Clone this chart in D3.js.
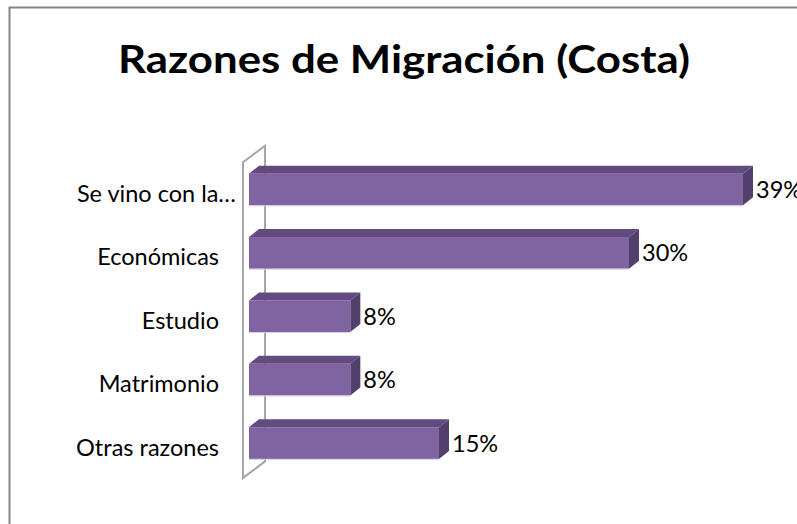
<!DOCTYPE html>
<html>
<head>
<meta charset="utf-8">
<script src="https://cdn.jsdelivr.net/npm/d3@7/dist/d3.min.js"></script>
<style>
  html, body { margin: 0; padding: 0; background: #fff; }
  svg { display: block; }
  text { font-family: Lato, "Open Sans", sans-serif; fill: #000; }
</style>
</head>
<body>
<svg id="chart" width="797" height="524"></svg>
<script>
const title = "Razones de Migración (Costa)";
const categories = ["Se vino con la…", "Económicas", "Estudio", "Matrimonio", "Otras razones"];
const values = [39, 30, 8, 8, 15];
const valueLabels = ["39%", "30%", "8%", "8%", "15%"];

const W = 797, H = 524;
const svg = d3.select("#chart");

// chart border (extends beyond right/bottom of the picture)
svg.append("rect")
  .attr("x", 9.5).attr("y", 7.5)
  .attr("width", W + 20).attr("height", H + 20)
  .attr("fill", "#fff").attr("stroke", "#868686").attr("stroke-width", 2);

// title
svg.append("text")
  .attr("x", 118).attr("y", 73)
  .attr("font-size", 39).attr("font-weight", "bold")
  .attr("textLength", 572).attr("lengthAdjust", "spacingAndGlyphs")
  .text(title);

const x = d3.scaleLinear().domain([0, 39]).range([249, 743]);
const y = d3.scaleBand().domain(categories).range([141.95, 490.6])
  .paddingInner(0.5).paddingOuter(0.5);

const dx = 10, dy = -8;
const labelSize = 23.5;

// back wall (3D axis plane)
const wallFront = x(0) - 6, wallBack = wallFront + 22;
const wallTopFront = y(categories[0]) - 11.5;
const wallBottomFront = y(categories[categories.length - 1]) + y.bandwidth() + 19;
const wallDepthY = 16.5;
svg.append("path")
  .attr("d", `M${wallFront},${wallBottomFront} L${wallFront},${wallTopFront} L${wallBack},${wallTopFront - wallDepthY} L${wallBack},${wallBottomFront - wallDepthY} Z`)
  .attr("fill", "none").attr("stroke", "#a6a6a6").attr("stroke-width", 2);

// bars
const g = svg.append("g");
categories.forEach((c, i) => {
  const x0 = x(0), x1 = x(values[i]);
  const y0 = y(c), h = y.bandwidth();
  // top face
  g.append("path")
    .attr("d", `M${x0},${y0} L${x0 + dx},${y0 + dy} L${x1 + dx},${y0 + dy} L${x1},${y0} Z`)
    .attr("fill", "#624b7e");
  // side face
  g.append("path")
    .attr("d", `M${x1},${y0} L${x1 + dx},${y0 + dy} L${x1 + dx},${y0 + h + dy} L${x1},${y0 + h} Z`)
    .attr("fill", "#52406c");
  // front face
  g.append("rect")
    .attr("x", x0).attr("y", y0).attr("width", x1 - x0).attr("height", h)
    .attr("fill", "#8064a2");
  // light bottom edge
  g.append("line")
    .attr("x1", x0).attr("x2", x1).attr("y1", y0 + h + 0.5).attr("y2", y0 + h + 0.5)
    .attr("stroke", "#d9cfe6").attr("stroke-width", 1);

  // value label
  g.append("text")
    .attr("x", x1 + dx + 3)
    .attr("y", y0 + h / 2 + 8.5)
    .attr("font-size", labelSize)
    .text(valueLabels[i]);

  // category label
  const truncated = c.endsWith("…");
  g.append("text")
    .attr("x", truncated ? 236 : 219)
    .attr("y", y0 + h / 2 + 12.5)
    .attr("text-anchor", "end")
    .attr("font-size", labelSize)
    .text(c);
});
</script>
</body>
</html>
